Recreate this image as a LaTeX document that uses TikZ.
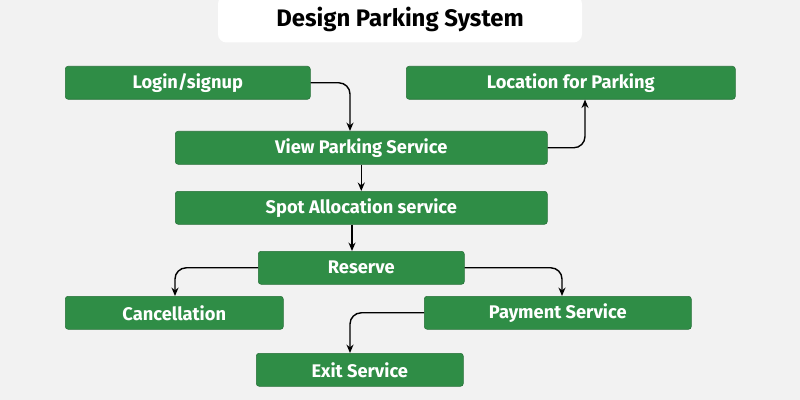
\documentclass[tikz,border=0pt]{standalone}
\usepackage{fontspec}
\setmainfont{Fira Sans}
\usetikzlibrary{arrows.meta,positioning}
\definecolor{bggray}{HTML}{F2F2F2}
\definecolor{boxgreen}{HTML}{2F8D46}

\begin{document}
\begin{tikzpicture}[x=0.025cm,y=-0.025cm,
   box/.style={draw=boxgreen!80!black, fill=boxgreen, rounded corners=2pt, text=white,
      font=\fontsize{13}{15}\selectfont\bfseries, inner sep=0pt, anchor=north west},
   link/.style={-{Stealth[length=6pt,width=5pt]}, line width=1pt, rounded corners=8pt}]
\fill[bggray] (0,0) rectangle (800,400);
\useasboundingbox (0,0) rectangle (800,400);
\node[fill=white, rounded corners=6pt, minimum width=364*0.025cm, minimum height=47*0.025cm,
      font=\fontsize{17}{20}\selectfont\bfseries] (title) at (400,19) {Design Parking System};
% boxes
\node[box, minimum width=245*0.025cm, minimum height=33*0.025cm] (login) at (65,66) {Login/signup};
\node[box, minimum width=329*0.025cm, minimum height=33*0.025cm] (location) at (406,66) {Location for Parking};
\node[box, minimum width=372*0.025cm, minimum height=33*0.025cm] (view) at (175,131) {View Parking Service};
\node[box, minimum width=372*0.025cm, minimum height=33*0.025cm] (spot) at (175,191) {Spot Allocation service};
\node[box, minimum width=206*0.025cm, minimum height=33*0.025cm] (reserve) at (258,251) {Reserve};
\node[box, minimum width=218*0.025cm, minimum height=33*0.025cm] (cancel) at (65,296) {Cancellation};
\node[box, minimum width=267*0.025cm, minimum height=33*0.025cm] (payment) at (424,296) {Payment Service};
\node[box, minimum width=207*0.025cm, minimum height=33*0.025cm] (exit) at (256,353) {Exit Service};
% connectors
\draw[link] (login.east) -| (view.north -| 350,0);
\draw[link] (view.east) -| (location.south -| 585,0);
\draw[link] (view.south) -- (spot.north);
\draw[link] (spot.south -| 352,0) -- (reserve.north -| 352,0);
\draw[link] (reserve.west) -| (cancel.north -| 175,0);
\draw[link] (reserve.east) -| (payment.north -| 562,0);
\draw[link] (payment.west) -| (exit.north -| 350,0);
\end{tikzpicture}
\end{document}
